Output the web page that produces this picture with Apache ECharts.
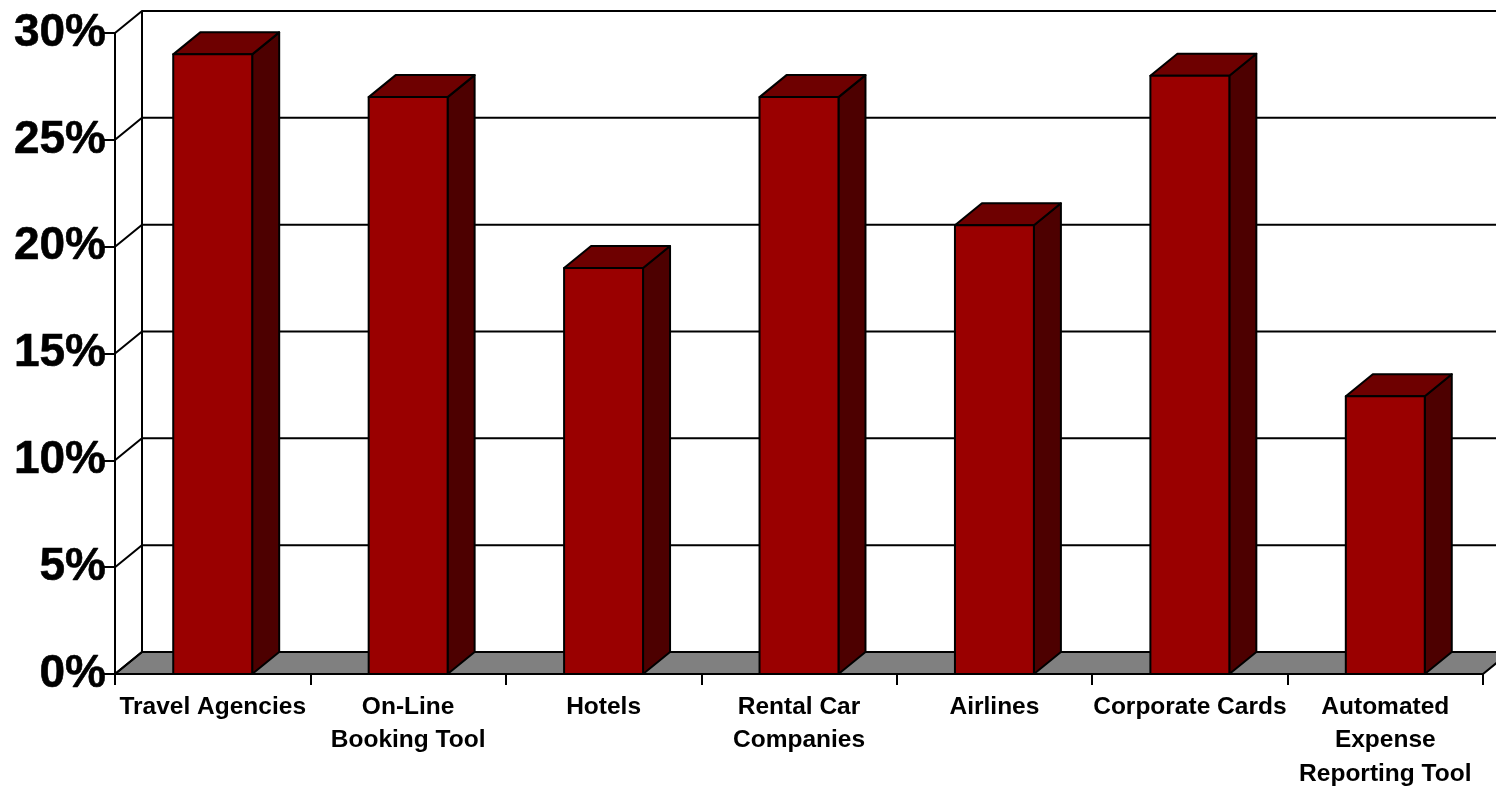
<!DOCTYPE html>
<html><head><meta charset="utf-8">
<style>html,body{margin:0;padding:0;background:#fff}#c{width:1496px;height:788px}</style>
<script src="https://cdn.jsdelivr.net/npm/echarts@6/dist/echarts.min.js"></script>
</head><body><div id="c"></div>
<script>
const categories = ['Travel Agencies','On-Line\nBooking Tool','Hotels','Rental Car\nCompanies','Airlines','Corporate Cards','Automated\nExpense\nReporting Tool'];
const values = [29,27,19,27,21,28,13];
const yTicks = [0,5,10,15,20,25,30];

const DX = 27, DY = -22, BAR = 0.404;
const stroke = {stroke:'#000', lineWidth:2, lineJoin:'round'};
const chart = echarts.init(document.getElementById('c'), null, {renderer:'canvas'});

function renderWall(params, api){
  const v = api.value(1), cs = params.coordSys, y = api.coord([0,v])[1];
  const x0 = cs.x, x1 = cs.x + cs.width;
  const kids = [];
  if (v === 0) {
    kids.push({type:'polygon', shape:{points:[[x0,y],[x0+DX,y+DY],[x1+DX,y+DY],[x1,y]]}, style:{fill:'#808080', stroke:'#000', lineWidth:2}});
  }
  if (v === 30) {
    kids.push({type:'line', shape:{x1:x0+DX,y1:y+DY,x2:x0+DX,y2:cs.y+cs.height+DY}, style:stroke});
  }
  kids.push({type:'polyline', shape:{points:[[x0,y],[x0+DX,y+DY],[x1+DX,y+DY]]}, style:{stroke:'#000', lineWidth:2, fill:null}});
  return {type:'group', children:kids};
}
function renderBar(params, api){
  const i = api.value(0), v = api.value(1);
  const top = api.coord([i,v]), base = api.coord([i,0]);
  const w = api.size([1,0])[0]*BAR, l = top[0]-w/2, r = top[0]+w/2, t = top[1], b = base[1];
  return {type:'group', children:[
    {type:'polygon', shape:{points:[[r,t],[r+DX,t+DY],[r+DX,b+DY],[r,b]]}, style:{fill:'#4d0000', ...stroke}},
    {type:'polygon', shape:{points:[[l,t],[l+DX,t+DY],[r+DX,t+DY],[r,t]]}, style:{fill:'#6e0000', ...stroke}},
    {type:'polygon', shape:{points:[[l,t],[r,t],[r,b],[l,b]]}, style:{fill:'#9a0000', ...stroke}}
  ]};
}
chart.setOption({
  animation:false,
  backgroundColor:'#fff',
  grid:{left:115, right:13, top:33, bottom:114, containLabel:false, outerBoundsMode:'none'},
  xAxis:{type:'category', data:categories, z:5,
    axisLine:{show:true, lineStyle:{color:'#000', width:2}},
    axisTick:{show:true, length:11, alignWithLabel:false, lineStyle:{color:'#000', width:2}},
    axisLabel:{interval:0, margin:16, color:'#000', fontFamily:'Liberation Sans', fontWeight:'bold', fontSize:24.5, lineHeight:33.5, hideOverlap:false},
    splitLine:{show:false}},
  yAxis:{type:'value', min:0, max:30, interval:5, z:5,
    axisLine:{show:true, lineStyle:{color:'#000', width:2}},
    axisTick:{show:true, length:11, lineStyle:{color:'#000', width:2}},
    axisLabel:{margin:9, color:'#000', fontFamily:'Liberation Sans', fontWeight:'bold', fontSize:46, textBorderColor:'#000', textBorderWidth:0.6, padding:[4,0,0,0], formatter:'{value}%'},
    splitLine:{show:false}},
  series:[
    {type:'custom', z:1, clip:false, silent:true, renderItem:renderWall, data:yTicks.map(v=>[0,v]), encode:{x:0,y:1}},
    {type:'custom', z:2, clip:false, silent:true, renderItem:renderBar, data:values.map((v,i)=>[i,v]), encode:{x:0,y:1}}
  ]
});
</script></body></html>
